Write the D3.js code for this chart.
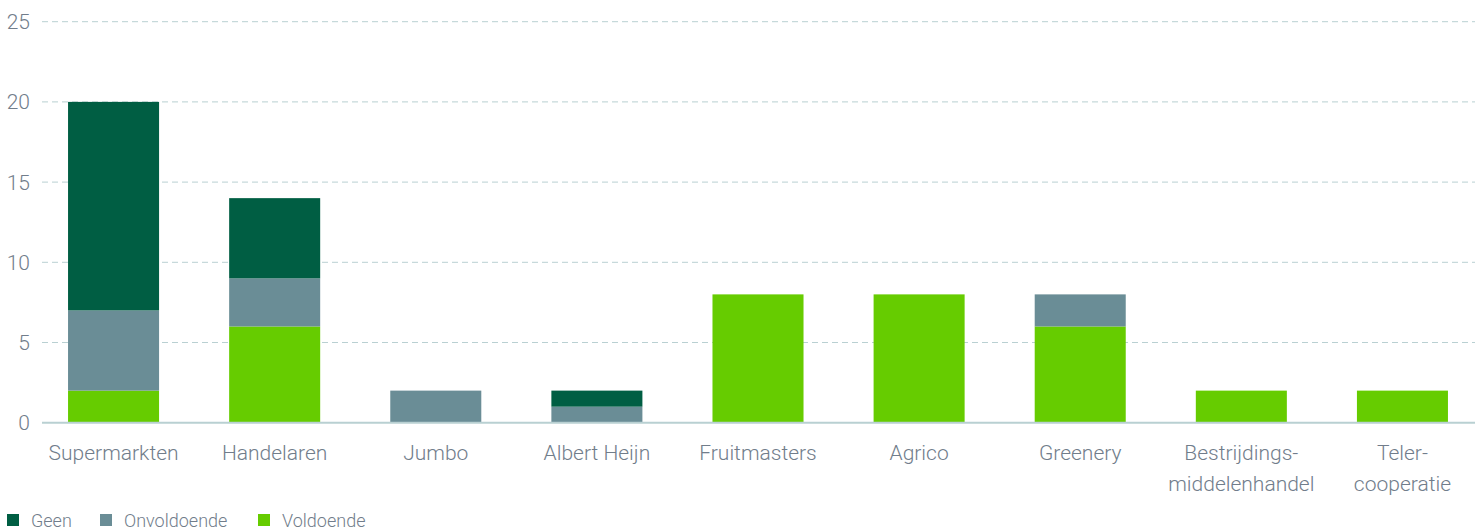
<!DOCTYPE html>
<html>
<head>
<meta charset="utf-8">
<script src="https://cdn.jsdelivr.net/npm/d3@7"></script>
<style>
  body { margin: 0; background: #fff; }
  text { font-family: Roboto, "Open Sans", sans-serif; font-weight: 300; }
</style>
</head>
<body>
<div id="chart"></div>
<script>
const categories = [
  ["Supermarkten"], ["Handelaren"], ["Jumbo"], ["Albert Heijn"], ["Fruitmasters"],
  ["Agrico"], ["Greenery"], ["Bestrijdings-", "middelenhandel"], ["Teler-", "cooperatie"]
];
const voldoende   = [2, 6, 0, 0, 8, 8, 6, 2, 2];
const onvoldoende = [5, 3, 2, 1, 0, 0, 2, 0, 0];
const geen        = [13, 5, 0, 1, 0, 0, 0, 0, 0];
const yTicks = [0, 5, 10, 15, 20, 25];

const seriesNames = ["Voldoende", "Onvoldoende", "Geen"];
const legendOrder = ["Geen", "Onvoldoende", "Voldoende"];
const colors = { Geen: "#005e43", Onvoldoende: "#6a8d96", Voldoende: "#66cc00" };

const width = 1483;
const height = 528;

const rows = categories.map((c, i) => ({
  key: i, label: c, Voldoende: voldoende[i], Onvoldoende: onvoldoende[i], Geen: geen[i]
}));

const svg = d3.select("#chart")
  .append("svg")
  .attr("width", width)
  .attr("height", height);

const x = d3.scaleBand()
  .domain(rows.map(d => d.key))
  .range([33, 1483])
  .paddingInner(0.435)
  .paddingOuter(0.2175);

const y = d3.scaleLinear()
  .domain([0, 25])
  .range([422.7, 21.7]);

// Grid lines
svg.append("g")
  .selectAll("line")
  .data(yTicks.filter(t => t > 0))
  .enter()
  .append("line")
  .attr("x1", 42)
  .attr("x2", 1475)
  .attr("y1", d => y(d))
  .attr("y2", d => y(d))
  .attr("stroke", "#b9d0d2")
  .attr("stroke-width", 1)
  .attr("stroke-dasharray", "6,4");

// Y labels
svg.append("g")
  .selectAll("text")
  .data(yTicks)
  .enter()
  .append("text")
  .attr("x", 30)
  .attr("y", d => y(d) + 7.5)
  .attr("text-anchor", "end")
  .attr("font-size", "21px")
  .attr("fill", "#717d8b")
  .text(d => d);

// Stacked bars
const stack = d3.stack().keys(seriesNames);
const layers = stack(rows);

svg.append("g")
  .selectAll("g")
  .data(layers)
  .enter()
  .append("g")
  .attr("fill", d => colors[d.key])
  .selectAll("rect")
  .data(d => d)
  .enter()
  .append("rect")
  .attr("x", d => x(d.data.key))
  .attr("width", x.bandwidth())
  .attr("y", d => y(d[1]))
  .attr("height", d => y(d[0]) - y(d[1]));

// Axis line
svg.append("line")
  .attr("x1", 42)
  .attr("x2", 1475)
  .attr("y1", y(0))
  .attr("y2", y(0))
  .attr("stroke", "#b9d0d2")
  .attr("stroke-width", 2);

// X labels
const xl = svg.append("g")
  .selectAll("text")
  .data(rows)
  .enter()
  .append("text")
  .attr("x", d => x(d.key) + x.bandwidth() / 2)
  .attr("y", 460)
  .attr("text-anchor", "middle")
  .attr("font-size", "21px")
  .attr("fill", "#717d8b");

xl.selectAll("tspan")
  .data(d => d.label)
  .enter()
  .append("tspan")
  .attr("x", function () { return d3.select(this.parentNode).attr("x"); })
  .attr("dy", (d, i) => i === 0 ? 0 : 31)
  .text(d => d);

// Legend
const legendX = [7, 100, 258];
const lg = svg.append("g")
  .selectAll("g")
  .data(legendOrder)
  .enter()
  .append("g")
  .attr("transform", (d, i) => `translate(${legendX[i]},514)`);

lg.append("rect")
  .attr("width", 12)
  .attr("height", 12)
  .attr("fill", d => colors[d]);

lg.append("text")
  .attr("x", 24)
  .attr("y", 13)
  .attr("font-size", "18px")
  .attr("fill", "#717d8b")
  .text(d => d);
</script>
</body>
</html>
